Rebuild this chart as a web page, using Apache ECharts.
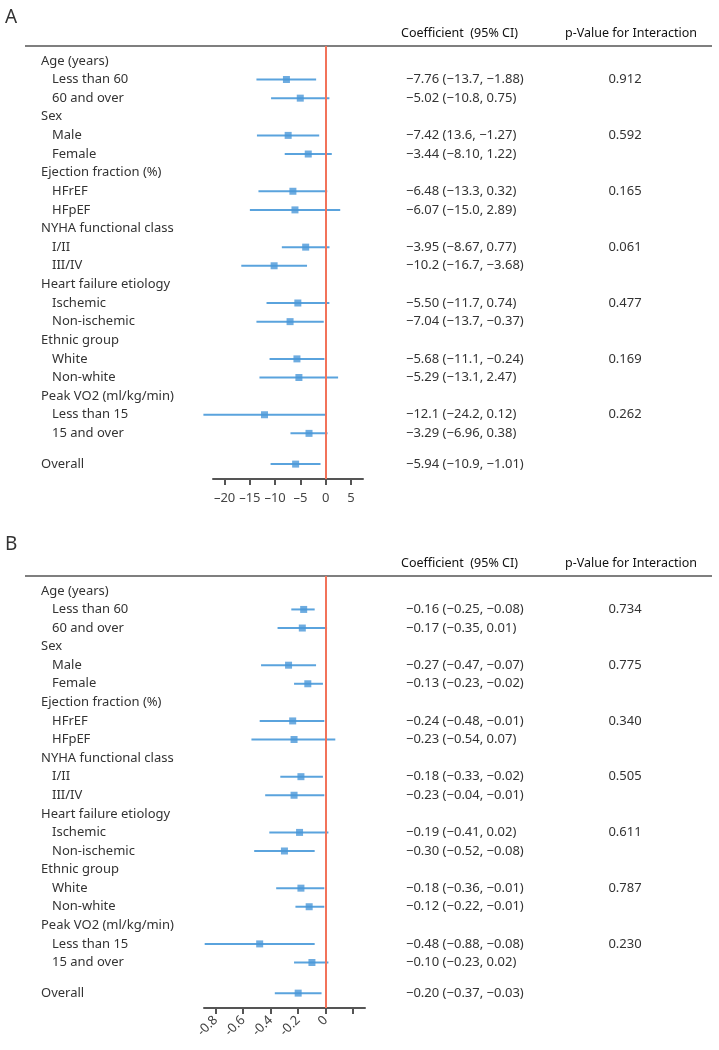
<!DOCTYPE html>
<html>
<head>
<meta charset="utf-8">
<script src="https://cdn.jsdelivr.net/npm/echarts@6/dist/echarts.min.js"></script>
<style>
html, body { margin: 0; padding: 0; background: #fff; }
#main { width: 719px; height: 1050px; }
</style>
</head>
<body>
<div id="main"></div>
<script>
// subgroup headings and their two levels
var groupNames = ['Age (years)', 'Sex', 'Ejection fraction (%)', 'NYHA functional class',
  'Heart failure etiology', 'Ethnic group', 'Peak VO2 (ml/kg/min)'];
var subNames = ['Less than 60', '60 and over', 'Male', 'Female', 'HFrEF', 'HFpEF', 'I/II', 'III/IV',
  'Ischemic', 'Non-ischemic', 'White', 'Non-white', 'Less than 15', '15 and over', 'Overall'];

// panel A
var estA = [-7.76, -5.02, -7.42, -3.44, -6.48, -6.07, -3.95, -10.2, -5.50, -7.04, -5.68, -5.29, -12.1, -3.29, -5.94];
var loA  = [-13.7, -10.8, -13.6, -8.10, -13.3, -15.0, -8.67, -16.7, -11.7, -13.7, -11.1, -13.1, -24.2, -6.96, -10.9];
var hiA  = [-1.88, 0.75, -1.27, 1.22, 0.32, 2.89, 0.77, -3.68, 0.74, -0.37, -0.24, 2.47, 0.12, 0.38, -1.01];
var ciTextA = ['−7.76 (−13.7, −1.88)', '−5.02 (−10.8, 0.75)', '−7.42 (13.6, −1.27)', '−3.44 (−8.10, 1.22)',
  '−6.48 (−13.3, 0.32)', '−6.07 (−15.0, 2.89)', '−3.95 (−8.67, 0.77)', '−10.2 (−16.7, −3.68)',
  '−5.50 (−11.7, 0.74)', '−7.04 (−13.7, −0.37)', '−5.68 (−11.1, −0.24)', '−5.29 (−13.1, 2.47)',
  '−12.1 (−24.2, 0.12)', '−3.29 (−6.96, 0.38)', '−5.94 (−10.9, −1.01)'];
var pA = ['0.912', '0.592', '0.165', '0.061', '0.477', '0.169', '0.262'];
var ticksA = [-20, -15, -10, -5, 0, 5];

// panel B
var estB = [-0.16, -0.17, -0.27, -0.13, -0.24, -0.23, -0.18, -0.23, -0.19, -0.30, -0.18, -0.12, -0.48, -0.10, -0.20];
var loB  = [-0.25, -0.35, -0.47, -0.23, -0.48, -0.54, -0.33, -0.44, -0.41, -0.52, -0.36, -0.22, -0.88, -0.23, -0.37];
var hiB  = [-0.08, 0.01, -0.07, -0.02, -0.01, 0.07, -0.02, -0.01, 0.02, -0.08, -0.01, -0.01, -0.08, 0.02, -0.03];
var ciTextB = ['−0.16 (−0.25, −0.08)', '−0.17 (−0.35, 0.01)', '−0.27 (−0.47, −0.07)', '−0.13 (−0.23, −0.02)',
  '−0.24 (−0.48, −0.01)', '−0.23 (−0.54, 0.07)', '−0.18 (−0.33, −0.02)', '−0.23 (−0.04, −0.01)',
  '−0.19 (−0.41, 0.02)', '−0.30 (−0.52, −0.08)', '−0.18 (−0.36, −0.01)', '−0.12 (−0.22, −0.01)',
  '−0.48 (−0.88, −0.08)', '−0.10 (−0.23, 0.02)', '−0.20 (−0.37, −0.03)'];
var pB = ['0.734', '0.775', '0.340', '0.505', '0.611', '0.787', '0.230'];
var ticksB = [-0.8, -0.6, -0.4, -0.2, 0, 0.2];
var labelsB = [-0.8, -0.6, -0.4, -0.2, 0];

var FONT = '"Noto Sans", sans-serif';
var BLUE = '#5aa3dd';
var RED = '#f2735a';
var OVERALL_POS = 21.65;

function markPos(k) {
  if (k === 14) return OVERALL_POS;
  return 3 * Math.floor(k / 2) + 1 + (k % 2);
}

// text rows: headings + subgroup rows
var rows = [];
groupNames.forEach(function (g, i) {
  rows.push({ text: g, head: true, pos: 3 * i });
  rows.push({ text: subNames[2 * i], pos: 3 * i + 1, k: 2 * i });
  rows.push({ text: subNames[2 * i + 1], pos: 3 * i + 2, k: 2 * i + 1 });
});
rows.push({ text: 'Overall', head: true, pos: OVERALL_POS, k: 14 });

function panelSeries(idx, est, lo, hi, ciText, pText) {
  var barData = [], ptData = [];
  for (var k = 0; k < est.length; k++) {
    barData.push([lo[k], hi[k], markPos(k)]);
    ptData.push([est[k], markPos(k)]);
  }
  return [
    {
      type: 'custom',
      xAxisIndex: idx, yAxisIndex: idx,
      data: rows.map(function (r) { return [0, r.pos]; }),
      renderItem: function (params, api) {
        var r = rows[params.dataIndex];
        var y = api.coord([0, api.value(1)])[1];
        var kids = [{
          type: 'text', x: r.head ? 41 : 52, y: y,
          style: { text: r.text, fill: '#333', font: '13px ' + FONT, align: 'left', verticalAlign: 'middle' }
        }];
        if (r.k !== undefined) {
          kids.push({
            type: 'text', x: 406, y: y,
            style: { text: ciText[r.k], fill: '#333', font: '13px ' + FONT, align: 'left', verticalAlign: 'middle' }
          });
          if (r.k % 2 === 0 && r.k < 14) {
            kids.push({
              type: 'text', x: 625, y: y,
              style: { text: pText[r.k / 2], fill: '#333', font: '13px ' + FONT, align: 'center', verticalAlign: 'middle' }
            });
          }
        }
        return { type: 'group', children: kids };
      },
      silent: true
    },
    {
      type: 'custom',
      xAxisIndex: idx, yAxisIndex: idx,
      data: barData,
      encode: { x: [0, 1], y: 2 },
      clip: false,
      renderItem: function (params, api) {
        var a = api.coord([api.value(0), api.value(2)]);
        var b = api.coord([api.value(1), api.value(2)]);
        return {
          type: 'line',
          shape: { x1: a[0], y1: a[1], x2: b[0], y2: b[1] },
          style: { stroke: BLUE, lineWidth: 2 }
        };
      },
      z: 3
    },
    {
      type: 'scatter',
      xAxisIndex: idx, yAxisIndex: idx,
      data: ptData,
      symbol: 'rect',
      symbolSize: 7,
      itemStyle: { color: '#4a97d8' },
      z: 4,
      markLine: {
        silent: true,
        symbol: ['none', 'none'],
        label: { show: false },
        lineStyle: { color: RED, width: 2, type: 'solid' },
        data: [{ xAxis: 0 }]
      }
    }
  ];
}

function yAxis(idx) {
  return { type: 'value', gridIndex: idx, inverse: true, min: -0.8, max: 22.45, show: false };
}

function headers(y) {
  return [
    { type: 'line', shape: { x1: 25, y1: y + 13, x2: 712, y2: y + 13 }, style: { stroke: '#555', lineWidth: 1.5 } },
    { type: 'text', x: 401, y: y, style: { text: 'Coefficient  (95% CI)', fill: '#111', font: '12.5px ' + FONT, verticalAlign: 'middle' } },
    { type: 'text', x: 631, y: y, style: { text: 'p-Value for Interaction', fill: '#111', font: '12.5px ' + FONT, align: 'center', verticalAlign: 'middle' } }
  ];
}

var chart = echarts.init(document.getElementById('main'));
chart.setOption({
  backgroundColor: '#fff',
  animation: false,
  grid: [
    { left: 213, width: 150, top: 46, height: 433 },
    { left: 204, width: 161, top: 576, height: 432 }
  ],
  xAxis: [
    {
      type: 'value', gridIndex: 0, min: -22.3, max: 7.4, position: 'bottom',
      splitLine: { show: false },
      axisLine: { onZero: false, lineStyle: { color: '#555', width: 2 } },
      axisTick: { customValues: ticksA, length: 6, lineStyle: { color: '#555', width: 2 } },
      axisLabel: {
        customValues: ticksA, color: '#444', fontSize: 13, fontFamily: FONT, margin: 13,
        formatter: function (v) { return String(v).replace('-', '–'); }
      }
    },
    {
      type: 'value', gridIndex: 1, min: -0.885, max: 0.286, position: 'bottom',
      splitLine: { show: false },
      axisLine: { onZero: false, lineStyle: { color: '#555', width: 2 } },
      axisTick: { customValues: ticksB, length: 6, lineStyle: { color: '#555', width: 2 } },
      axisLabel: {
        customValues: labelsB, color: '#444', fontSize: 13, fontFamily: FONT, margin: 10, rotate: 45,
        formatter: function (v) { return String(v); }
      }
    }
  ],
  yAxis: [yAxis(0), yAxis(1)],
  graphic: [
    { type: 'text', left: 5, top: 8, style: { text: 'A', fill: '#333', font: '19px ' + FONT } },
    { type: 'text', left: 5, top: 535, style: { text: 'B', fill: '#333', font: '19px ' + FONT } }
  ].concat(headers(33), headers(563)),
  series: panelSeries(0, estA, loA, hiA, ciTextA, pA).concat(panelSeries(1, estB, loB, hiB, ciTextB, pB))
});
</script>
</body>
</html>
